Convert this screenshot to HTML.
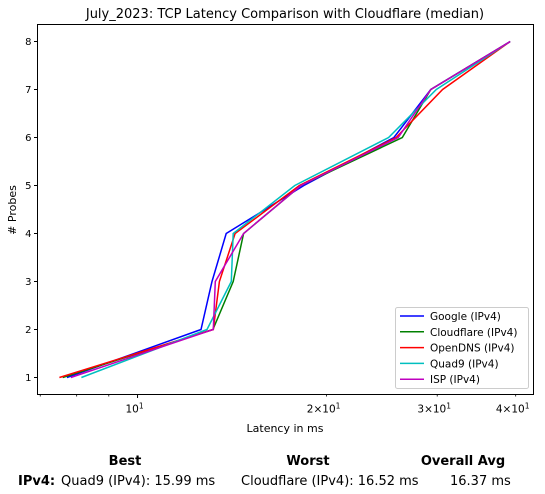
<!DOCTYPE html>
<html><head><meta charset="utf-8"><style>
body{margin:0;background:#fff;}
svg{display:block;font-family:"DejaVu Sans","Liberation Sans",sans-serif;}
</style></head><body>
<svg id="chart" width="545" height="494" viewBox="0 0 545 494" xmlns="http://www.w3.org/2000/svg">
<rect width="545" height="494" fill="#fff"/>
<text x="285" y="18" font-size="13" text-anchor="middle">July_2023: TCP Latency Comparison with Cloudflare (median)</text>
<g id="marks"></g>
<rect x="37.5" y="24.5" width="496" height="370" fill="none" stroke="#000" stroke-width="1"/>
<g id="axes"></g>
<text x="285" y="432" font-size="11" text-anchor="middle">Latency in ms</text>
<text transform="translate(16,210) rotate(-90)" font-size="11" text-anchor="middle"># Probes</text>
<g id="legend"></g>
<g font-size="13">
<text x="125" y="465" font-weight="bold" text-anchor="middle">Best</text>
<text x="308" y="465" font-weight="bold" text-anchor="middle">Worst</text>
<text x="463" y="465" font-weight="bold" text-anchor="middle">Overall Avg</text>
<text x="18" y="485" font-weight="bold">IPv4:</text>
<text x="61" y="485">Quad9 (IPv4): 15.99 ms</text>
<text x="241" y="485">Cloudflare (IPv4): 16.52 ms</text>
<text x="450" y="485">16.37 ms</text>
</g>
</svg>
<script>
const probes=[1,2,3,4,5,6,7,8];
const seriesNames=["Google (IPv4)","Cloudflare (IPv4)","OpenDNS (IPv4)","Quad9 (IPv4)","ISP (IPv4)"];
const seriesColors=["#0000ff","#008000","#ff0000","#00bfbf","#bf00bf"];
const googleVals=[7.72,12.62,13.14,13.84,18.4,25.6,29.3,39.2];
const cloudflareVals=[7.6,13.18,14.2,14.75,18.2,26.4,29.3,39.2];
const opendnsVals=[7.51,13.2,13.5,14.3,18.1,25.8,30.6,39.2];
const quad9Vals=[8.14,12.9,14.1,14.2,17.8,25.1,29.9,39.2];
const ispVals=[7.83,13.2,13.3,14.75,18.2,26.0,29.3,39.2];
const xMajorTicks=[10];
const xMajorLabels=["10"];
const xMinorTicks=[7,8,9,20,30,40];
const xMinorLabels=["","","","2","3","4"];
const yTicks=[1,2,3,4,5,6,7,8];
const allVals=[googleVals,cloudflareVals,opendnsVals,quad9Vals,ispVals];
const NS="http://www.w3.org/2000/svg";
const L=37.5,R=533.5,T=24.5,B=394.5;
const xmin=Math.log10(6.93),xmax=Math.log10(42.7),ymin=0.646,ymax=8.354;
function xs(v){return L+(Math.log10(v)-xmin)/(xmax-xmin)*(R-L);}
function ys(v){return B-(v-ymin)/(ymax-ymin)*(B-T);}
function mk(t,a,p){const e=document.createElementNS(NS,t);for(const k in a)e.setAttribute(k,a[k]);(p||document.getElementById('chart')).appendChild(e);return e;}
const marks=document.getElementById('marks');
allVals.forEach((vals,i)=>{
  const pts=vals.map((v,j)=>xs(v).toFixed(1)+","+ys(probes[j]).toFixed(1)).join(" ");
  const pl=mk('polyline',{points:pts,fill:'none',stroke:seriesColors[i],'stroke-width':1.5},marks);
  
  
});
const axes=document.getElementById('axes');
yTicks.forEach(v=>{
  const y=ys(v);
  const l=mk('line',{x1:L-3.5,x2:L,y1:y,y2:y,stroke:'#000'},axes);
  
  
  const t=mk('text',{x:L-6,y:y+3.5,'font-size':10,'text-anchor':'end'},axes);
  t.textContent=v;
  
  
});
xMajorTicks.forEach((v,i)=>{
  const x=xs(v);
  const l=mk('line',{x1:x,x2:x,y1:B,y2:B+3.5,stroke:'#000'},axes);
  
  
  const t=mk('text',{x:x-3,y:B+18,'font-size':10.5,'text-anchor':'middle'},axes);
  t.innerHTML=xMajorLabels[i]+'<tspan dy="-4" font-size="7.5">1</tspan>';
  
  
});
xMinorTicks.forEach((v,i)=>{
  const x=xs(v);
  const l=mk('line',{x1:x,x2:x,y1:B,y2:B+2,stroke:'#000','stroke-width':0.8},axes);
  
  
  if(xMinorLabels[i]){
    const t=mk('text',{x:x-3,y:B+18,'font-size':10.5,'text-anchor':'middle'},axes);
    t.innerHTML=xMinorLabels[i]+'\u00d710<tspan dy="-4" font-size="7.5">1</tspan>';
    
    
  }
});
const lg=document.getElementById('legend');
const box=mk('rect',{x:395.5,y:307.5,width:133,height:81,rx:2,fill:'#fff','fill-opacity':0.8,stroke:'#ccc'},lg);


seriesNames.forEach((n,i)=>{
  const y=316+i*15.8;
  const l=mk('line',{x1:400,x2:424,y1:y,y2:y,stroke:seriesColors[i],'stroke-width':1.5},lg);
  
  
  const t=mk('text',{x:430,y:y+4,'font-size':10.5},lg);
  t.textContent=n;
  
  
});
</script>
</body></html>
